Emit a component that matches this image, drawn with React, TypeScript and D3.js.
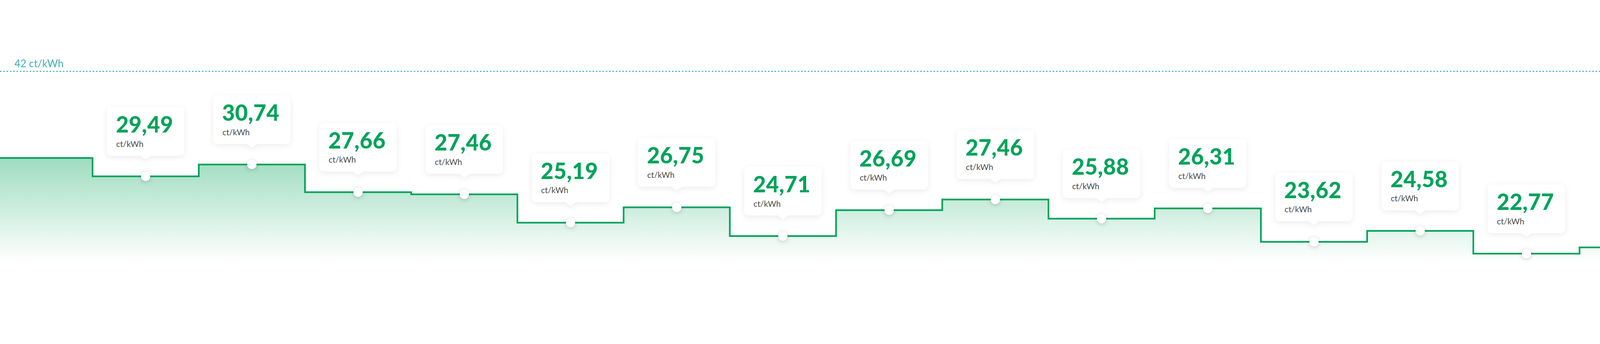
import React, { useEffect, useRef } from 'react';
import * as d3 from 'd3';

// Monthly price steps in ct/kWh. First and last month are only partly in view.
const periods = [0, 1, 2, 3, 4, 5, 6, 7, 8, 9, 10, 11, 12, 13, 14, 15];
const stepPrices = [32.33, 30.27, 31.59, 28.5, 28.26, 25.09, 26.81, 23.6, 26.49, 27.68, 25.54, 26.69, 22.95, 24.18, 21.63, 22.33];
// Values shown in the tooltips (null = no tooltip in view)
const shownPrices = [null, 29.49, 30.74, 27.66, 27.46, 25.19, 26.75, 24.71, 26.69, 27.46, 25.88, 26.31, 23.62, 24.58, 22.77, null];
const referencePrice = 42;
const unitLabel = 'ct/kWh';

const WIDTH = 4350;
const HEIGHT = 880;
const FONT = "Lato, 'Open Sans', sans-serif";

const App: React.FC = () => {
  const svgRef = useRef<SVGSVGElement>(null);

  useEffect(() => {
    document.body.style.margin = '0';
    if (!svgRef.current) return;

    const svg = d3.select(svgRef.current);
    svg.selectAll('*').remove();

    const x = d3.scaleLinear().domain([1, 14]).range([396, 4150]);
    const y = d3.scaleLinear().domain([0, referencePrice]).range([1215, 194]);
    const baseY = 712;

    const fmt = d3.formatLocale({ decimal: ',', thousands: '.', grouping: [3], currency: ['', ''] }).format('.2f');

    // step boundaries: each month spans [p - 0.5, p + 0.5]
    const steps = periods.map((p, i) => ({ x: p - 0.5, v: stepPrices[i] }));
    steps.push({ x: periods[periods.length - 1] + 0.5, v: stepPrices[stepPrices.length - 1] });

    const defs = svg.append('defs');
    const grad = defs.append('linearGradient')
      .attr('id', 'area-grad')
      .attr('gradientUnits', 'userSpaceOnUse')
      .attr('x1', 0).attr('x2', 0)
      .attr('y1', y(d3.max(stepPrices) as number))
      .attr('y2', baseY);
    grad.append('stop').attr('offset', '0%').attr('stop-color', '#00a35a').attr('stop-opacity', 0.38);
    grad.append('stop').attr('offset', '100%').attr('stop-color', '#00a35a').attr('stop-opacity', 0);

    const boxShadow = defs.append('filter').attr('id', 'box-shadow')
      .attr('x', '-30%').attr('y', '-30%').attr('width', '160%').attr('height', '160%');
    boxShadow.append('feDropShadow')
      .attr('dx', 0).attr('dy', 4).attr('stdDeviation', 8)
      .attr('flood-color', '#000').attr('flood-opacity', 0.08);

    const dotShadow = defs.append('filter').attr('id', 'dot-shadow')
      .attr('x', '-150%').attr('y', '-150%').attr('width', '400%').attr('height', '400%');
    dotShadow.append('feDropShadow')
      .attr('dx', 0).attr('dy', 2).attr('stdDeviation', 6)
      .attr('flood-color', '#000').attr('flood-opacity', 0.2);

    // reference line
    svg.append('line')
      .attr('x1', 0).attr('x2', WIDTH)
      .attr('y1', y(referencePrice)).attr('y2', y(referencePrice))
      .attr('stroke', '#3eb1b8')
      .attr('stroke-width', 3)
      .attr('stroke-dasharray', '4,5');

    svg.append('text')
      .attr('x', 39)
      .attr('y', y(referencePrice) - 11)
      .attr('fill', '#3eb1b8')
      .attr('font-family', FONT)
      .attr('font-size', 28)
      .text(`${referencePrice} ${unitLabel}`);

    // area + step line
    const area = d3.area<{ x: number; v: number }>()
      .x(d => x(d.x))
      .y0(baseY)
      .y1(d => y(d.v))
      .curve(d3.curveStepAfter);

    svg.append('path')
      .datum(steps)
      .attr('fill', 'url(#area-grad)')
      .attr('d', area);

    const line = d3.line<{ x: number; v: number }>()
      .x(d => x(d.x))
      .y(d => y(d.v))
      .curve(d3.curveStepAfter);

    svg.append('path')
      .datum(steps)
      .attr('fill', 'none')
      .attr('stroke', '#00a35a')
      .attr('stroke-width', 4.5)
      .attr('d', line);

    // tooltips
    const boxW = 210;
    const boxH = 132;
    const r = 12;
    const tipW = 28;
    const tipH = 10;

    const calloutPath = (cx: number, bottom: number) => {
      const left = cx - boxW / 2;
      const right = cx + boxW / 2;
      const top = bottom - boxH;
      const p = d3.path();
      p.moveTo(left + r, top);
      p.lineTo(right - r, top);
      p.arcTo(right, top, right, top + r, r);
      p.lineTo(right, bottom - r);
      p.arcTo(right, bottom, right - r, bottom, r);
      p.lineTo(cx + tipW / 2, bottom);
      p.lineTo(cx, bottom + tipH);
      p.lineTo(cx - tipW / 2, bottom);
      p.lineTo(left + r, bottom);
      p.arcTo(left, bottom, left, bottom - r, r);
      p.lineTo(left, top + r);
      p.arcTo(left, top, left + r, top, r);
      p.closePath();
      return p.toString();
    };

    const labelled = periods
      .map((p, i) => ({ p, v: stepPrices[i], label: shownPrices[i] }))
      .filter(d => d.label !== null);

    const tips = svg.append('g')
      .selectAll('g')
      .data(labelled)
      .join('g')
      .attr('transform', d => `translate(${x(d.p)},${y(d.v) - 56})`);

    tips.append('path')
      .attr('d', () => calloutPath(0, 0))
      .attr('fill', '#fff')
      .attr('filter', 'url(#box-shadow)');

    tips.append('text')
      .attr('x', -boxW / 2 + 24)
      .attr('y', -boxH + 69)
      .attr('fill', '#00a35a')
      .attr('font-family', FONT)
      .attr('font-weight', 900)
      .attr('font-size', 60)
      .attr('letter-spacing', 0.5)
      .text(d => fmt(d.label as number));

    tips.append('text')
      .attr('x', -boxW / 2 + 25)
      .attr('y', -boxH + 108)
      .attr('fill', '#4a4a4a')
      .attr('font-family', FONT)
      .attr('font-size', 22)
      .text(unitLabel);

    // points
    svg.append('g')
      .selectAll('circle')
      .data(labelled)
      .join('circle')
      .attr('cx', d => x(d.p))
      .attr('cy', d => y(d.v))
      .attr('r', 12.5)
      .attr('fill', '#fff')
      .attr('filter', 'url(#dot-shadow)');
  }, []);

  return (
    <svg
      ref={svgRef}
      viewBox={`0 0 ${WIDTH} ${HEIGHT}`}
      width="100%"
      preserveAspectRatio="xMidYMin meet"
      style={{ display: 'block' }}
    />
  );
};

export default App;
